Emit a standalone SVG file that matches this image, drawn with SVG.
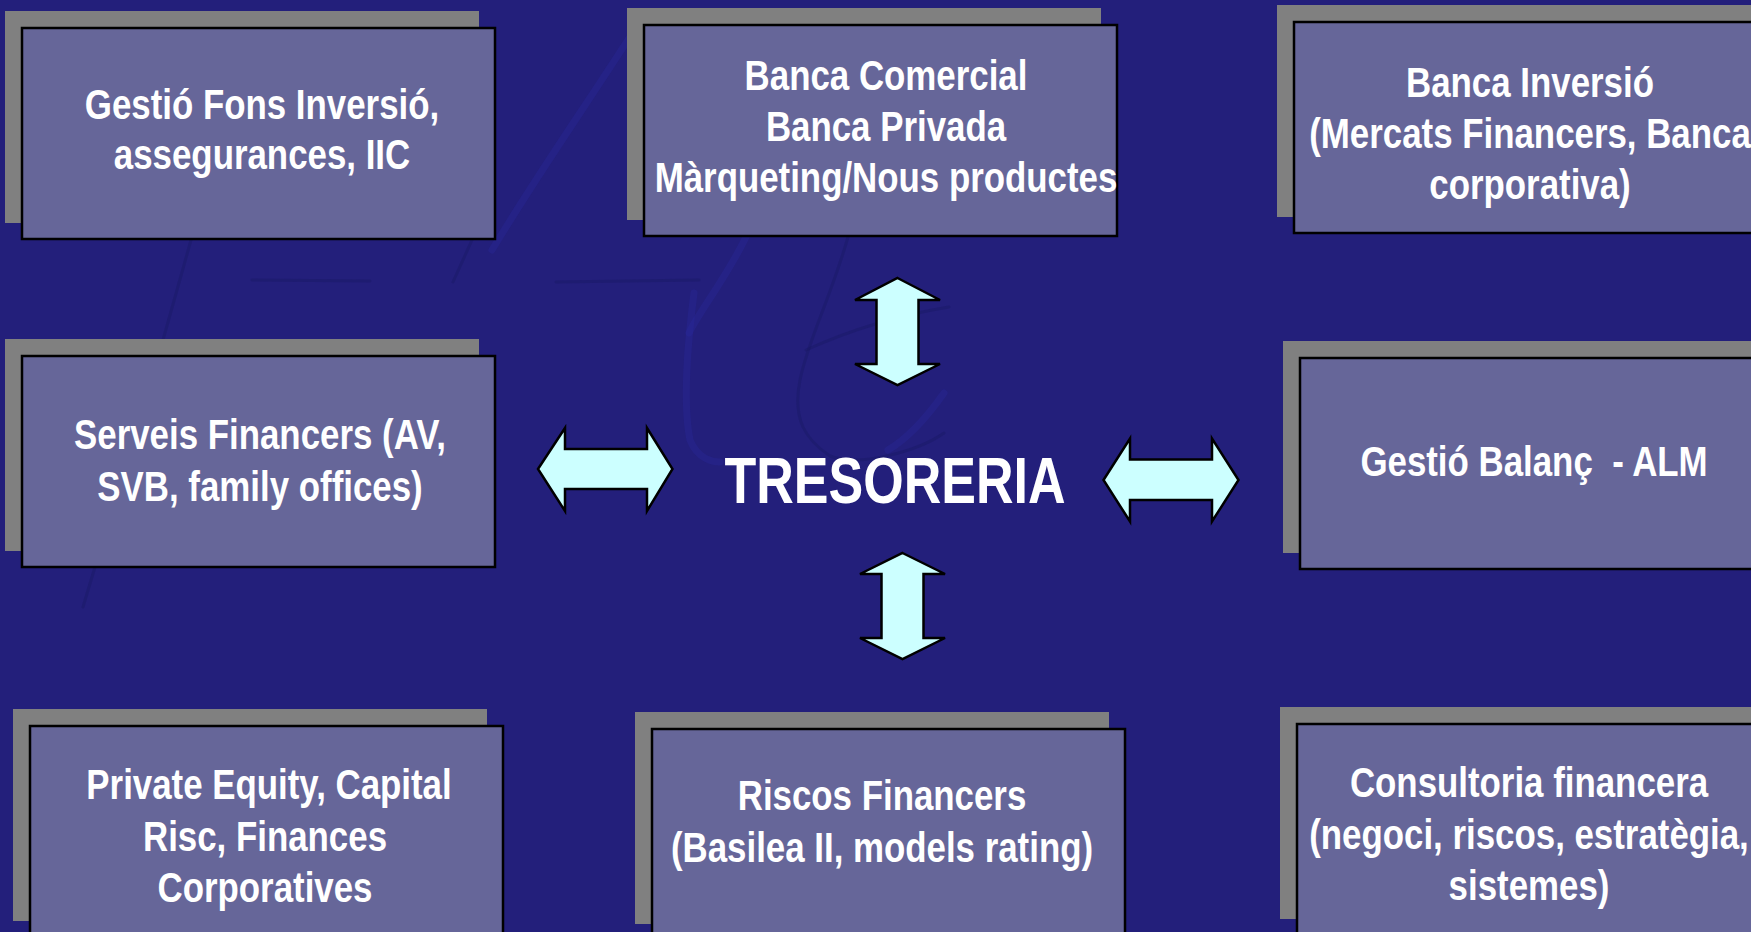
<svg xmlns="http://www.w3.org/2000/svg" width="1751" height="932" viewBox="0 0 1751 932">
  <style>
    .shadow { fill: #808080; }
    .box { fill: #666699; stroke: #000000; stroke-width: 2.5; }
    .lbl { font-family: "Liberation Sans", Arial, sans-serif; font-weight: bold; font-size: 42px; fill: #ffffff; text-anchor: middle; }
    .title { font-family: "Liberation Sans", Arial, sans-serif; font-weight: bold; font-size: 65px; fill: #ffffff; text-anchor: middle; }
    .arrow { fill: #ccffff; stroke: #000000; stroke-width: 2.5; stroke-linejoin: miter; }
    .dark { fill: none; stroke: #17165e; stroke-width: 3; stroke-linecap: round; opacity: 0.35; }
    .light { fill: none; stroke: #2c2ca6; stroke-width: 7; stroke-linecap: round; opacity: 0.28; }
  </style>
  <rect x="0" y="0" width="1751" height="932" fill="#231f7b"/>

  <g id="background-texture">
    <path class="light" d="M492,250 C540,170 590,100 642,18"/>
    <path class="light" d="M694,293 C688,340 682,400 690,440 C698,460 714,462 720,462"/>
    <path class="light" d="M944,393 C925,420 905,440 888,450"/>
    <path class="light" d="M746,237 C725,280 700,310 689,333"/>
    <path class="dark" d="M191,240 L163,340 L83,607"/>
    <path class="dark" d="M252,280 L370,281"/>
    <path class="dark" d="M472,240 L453,282"/>
    <path class="dark" d="M556,282 L699,280"/>
    <path class="dark" d="M848,237 C830,300 808,340 800,380 C792,420 806,440 830,456 C860,468 920,450 944,433"/>
    <path class="dark" d="M806,350 C850,330 900,315 949,307"/>
  </g>

  <g id="connectors">
    <path id="arrow-top" class="arrow" d="M897.5,278 L940,300 L918.5,300 L918.5,364 L940,364 L897.5,385 L855,364 L876.5,364 L876.5,300 L855,300 Z"/>
    <path id="arrow-bottom" class="arrow" d="M902.5,553 L945,574 L923.5,574 L923.5,638 L945,638 L902.5,659 L860,638 L881.5,638 L881.5,574 L860,574 Z"/>
    <path id="arrow-left" class="arrow" d="M538,469 L565,428 L565,449 L647,449 L647,428 L672.5,469 L647,511 L647,489 L565,489 L565,511 Z"/>
    <path id="arrow-right" class="arrow" d="M1103.5,480 L1130,438.5 L1130,459.5 L1212,459.5 L1212,438.5 L1238.5,480 L1212,521.5 L1212,500 L1130,500 L1130,521.5 Z"/>
  </g>

  <g id="node-tresoreria">
    <text class="title" transform="translate(895 503) scale(0.8 1)">TRESORERIA</text>
  </g>

  <g id="node-gestio-fons">
    <rect class="shadow" x="5" y="11" width="474" height="212"/>
    <rect class="box" x="22" y="28" width="473" height="211"/>
    <text class="lbl" transform="translate(262 119) scale(0.83 1)">Gestió Fons Inversió,</text>
    <text class="lbl" transform="translate(262 169) scale(0.83 1)">assegurances, IIC</text>
  </g>

  <g id="node-banca-comercial">
    <rect class="shadow" x="627" y="8" width="474" height="212"/>
    <rect class="box" x="644" y="25" width="473" height="211"/>
    <text class="lbl" transform="translate(886 90) scale(0.83 1)">Banca Comercial</text>
    <text class="lbl" transform="translate(886 141) scale(0.83 1)">Banca Privada</text>
    <text class="lbl" transform="translate(886 192) scale(0.83 1)">Màrqueting/Nous productes</text>
  </g>

  <g id="node-banca-inversio">
    <rect class="shadow" x="1277" y="5" width="474" height="212"/>
    <rect class="box" x="1294" y="22" width="473" height="211"/>
    <text class="lbl" transform="translate(1530 97) scale(0.83 1)">Banca Inversió</text>
    <text class="lbl" transform="translate(1530 148) scale(0.83 1)">(Mercats Financers, Banca</text>
    <text class="lbl" transform="translate(1530 199) scale(0.83 1)">corporativa)</text>
  </g>

  <g id="node-serveis-financers">
    <rect class="shadow" x="5" y="339" width="474" height="212"/>
    <rect class="box" x="22" y="356" width="473" height="211"/>
    <text class="lbl" transform="translate(260 449) scale(0.83 1)">Serveis Financers (AV,</text>
    <text class="lbl" transform="translate(260 501) scale(0.83 1)">SVB, family offices)</text>
  </g>

  <g id="node-gestio-balanc">
    <rect class="shadow" x="1283" y="341" width="474" height="212"/>
    <rect class="box" x="1300" y="358" width="473" height="211"/>
    <text class="lbl" transform="translate(1534 476) scale(0.83 1)" xml:space="preserve">Gestió Balanç  - ALM</text>
  </g>

  <g id="node-private-equity">
    <rect class="shadow" x="13" y="709" width="474" height="212"/>
    <rect class="box" x="30" y="726" width="473" height="211"/>
    <text class="lbl" transform="translate(269 799) scale(0.83 1)">Private Equity, Capital</text>
    <text class="lbl" transform="translate(265 851) scale(0.83 1)">Risc, Finances</text>
    <text class="lbl" transform="translate(265 902) scale(0.83 1)">Corporatives</text>
  </g>

  <g id="node-riscos-financers">
    <rect class="shadow" x="635" y="712" width="474" height="212"/>
    <rect class="box" x="652" y="729" width="473" height="211"/>
    <text class="lbl" transform="translate(882 810) scale(0.83 1)">Riscos Financers</text>
    <text class="lbl" transform="translate(882 862) scale(0.83 1)">(Basilea II, models rating)</text>
  </g>

  <g id="node-consultoria">
    <rect class="shadow" x="1280" y="707" width="474" height="212"/>
    <rect class="box" x="1297" y="724" width="473" height="211"/>
    <text class="lbl" transform="translate(1529 797) scale(0.83 1)">Consultoria financera</text>
    <text class="lbl" transform="translate(1529 849) scale(0.83 1)">(negoci, riscos, estratègia,</text>
    <text class="lbl" transform="translate(1529 900) scale(0.83 1)">sistemes)</text>
  </g>
</svg>
